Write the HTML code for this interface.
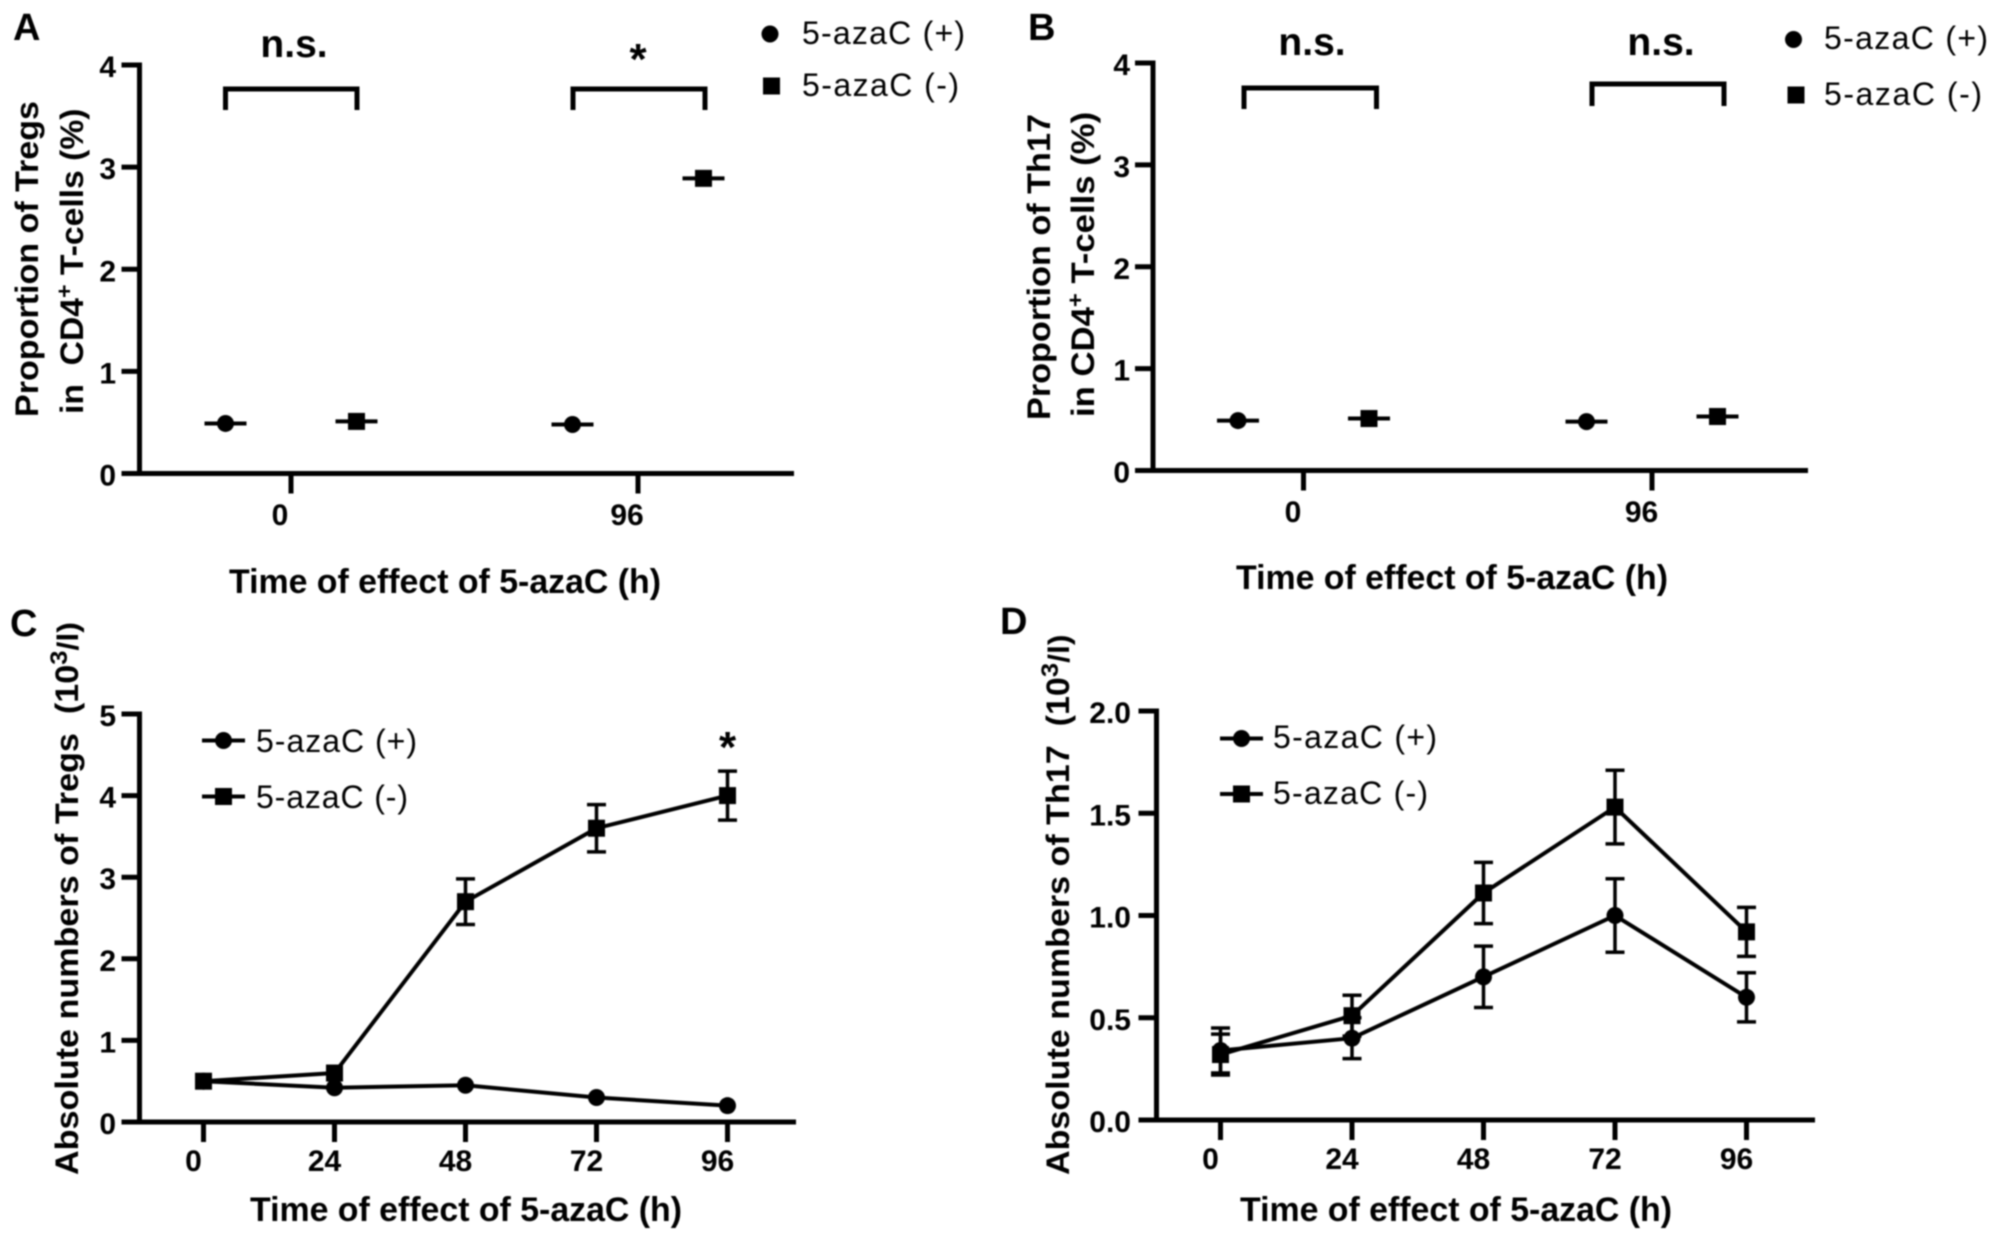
<!DOCTYPE html>
<html lang="en">
<head>
<meta charset="utf-8">
<title>5-azaC effect on Tregs and Th17</title>
<style>
html,body{margin:0;padding:0;background:#fff;}
svg{display:block;filter:blur(0.9px);}
text{font-family:"Liberation Sans","Noto Sans CJK SC",sans-serif;fill:#000;}
.b{font-weight:bold;}
.axis-title{font-weight:bold;font-size:34px;}
.y-title{font-weight:bold;font-size:32px;}
.letter{font-weight:bold;font-size:38px;}
.sig{font-weight:bold;font-size:39px;text-anchor:middle;}
.star{font-weight:bold;font-size:44px;text-anchor:middle;}
.legend{font-size:32px;}
.tick{font-weight:bold;font-size:30px;}
.bracket{fill:none;stroke:#000;stroke-width:5;}
.leg-line{stroke:#000;stroke-width:4;}
</style>
</head>
<body>
<svg id="figure" xmlns="http://www.w3.org/2000/svg" width="2008" height="1241" viewBox="0 0 2008 1241">
<rect width="2008" height="1241" fill="#fff"/>

<g id="panel-a">
<text class="letter" x="13" y="40">A</text>
<text class="y-title" transform="translate(38,417) rotate(-90)" textLength="316" lengthAdjust="spacingAndGlyphs">Proportion of Tregs</text>
<text class="y-title" transform="translate(83,414) rotate(-90) scale(1.053,1)">in&#160;&#160;CD4<tspan font-size="22" dy="-11">+</tspan><tspan dy="11"> T-cells (%)</tspan></text>
<text class="axis-title" x="229" y="593" textLength="432" lengthAdjust="spacingAndGlyphs">Time of effect of 5-azaC (h)</text>
<path class="bracket" d="M225.500 110V89H357V110"/>
<path class="bracket" d="M573 110V89H705V110"/>
<text class="sig" x="294" y="57">n.s.</text>
<text class="star" x="638" y="74">*</text>
<circle cx="770" cy="34" r="8.500"/>
<rect x="763" y="77.500" width="17" height="17"/>
<text class="legend" x="802" y="44" textLength="163" lengthAdjust="spacing">5-azaC (+)</text>
<text class="legend" x="802" y="96" textLength="157" lengthAdjust="spacing">5-azaC (-)</text>
</g>

<g id="panel-b">
<text class="letter" x="1028" y="40">B</text>
<text class="y-title" transform="translate(1050,420) rotate(-90)" textLength="306" lengthAdjust="spacingAndGlyphs">Proportion of Th17</text>
<text class="y-title" transform="translate(1094,417) rotate(-90) scale(1.085,1)">in CD4<tspan font-size="22" dy="-11">+</tspan><tspan dy="11"> T-cells (%)</tspan></text>
<text class="axis-title" x="1236" y="589" textLength="432" lengthAdjust="spacingAndGlyphs">Time of effect of 5-azaC (h)</text>
<path class="bracket" d="M1244 109V88H1376.500V109"/>
<path class="bracket" d="M1592 106V84H1724V106"/>
<text class="sig" x="1312" y="55">n.s.</text>
<text class="sig" x="1661" y="55">n.s.</text>
<circle cx="1793.500" cy="39.500" r="8.500"/>
<rect x="1787.500" y="86.500" width="17" height="17"/>
<text class="legend" x="1824" y="49" textLength="164" lengthAdjust="spacing">5-azaC (+)</text>
<text class="legend" x="1824" y="105" textLength="158" lengthAdjust="spacing">5-azaC (-)</text>
</g>

<g id="panel-c">
<text class="letter" x="10" y="636">C</text>
<text class="y-title" transform="translate(78,1175) rotate(-90) scale(1.067,1)">Absolute numbers of Tregs&#160;&#160;(10<tspan font-size="24" dy="-11">3</tspan><tspan font-size="30" dy="11">/l)</tspan></text>
<text class="axis-title" x="250" y="1221" textLength="432" lengthAdjust="spacingAndGlyphs">Time of effect of 5-azaC (h)</text>
<text class="star" x="727.500" y="762">*</text>
<line class="leg-line" x1="202" y1="740.500" x2="245" y2="740.500"/>
<circle cx="223.500" cy="740.500" r="8.500"/>
<line class="leg-line" x1="202" y1="796.500" x2="245" y2="796.500"/>
<rect x="215" y="788" width="17" height="17"/>
<text class="legend" x="256" y="752" textLength="161" lengthAdjust="spacing">5-azaC (+)</text>
<text class="legend" x="256" y="808" textLength="152" lengthAdjust="spacing">5-azaC (-)</text>
</g>

<g id="panel-d">
<text class="letter" x="1000" y="634">D</text>
<text class="y-title" transform="translate(1069,1175) rotate(-90) scale(1.065,1)">Absolute numbers of Th17&#160;&#160;(10<tspan font-size="24" dy="-11">3</tspan><tspan font-size="30" dy="11">/l)</tspan></text>
<text class="axis-title" x="1240" y="1221" textLength="432" lengthAdjust="spacingAndGlyphs">Time of effect of 5-azaC (h)</text>
<line class="leg-line" x1="1220" y1="738.500" x2="1263" y2="738.500"/>
<circle cx="1241.500" cy="738.500" r="8.500"/>
<line class="leg-line" x1="1220" y1="794" x2="1263" y2="794"/>
<rect x="1233" y="785.500" width="17" height="17"/>
<text class="legend" x="1273" y="748" textLength="164" lengthAdjust="spacing">5-azaC (+)</text>
<text class="legend" x="1273" y="804" textLength="155" lengthAdjust="spacing">5-azaC (-)</text>
</g>
</svg>

<script>
// ---- data ----
const aCategories = ['0', '96'];
const aYTicks = ['0', '1', '2', '3', '4'];
const aPlusValues = [0.49, 0.48];
const aMinusValues = [0.51, 2.89];

const bCategories = ['0', '96'];
const bYTicks = ['0', '1', '2', '3', '4'];
const bPlusValues = [0.49, 0.48];
const bMinusValues = [0.51, 0.53];

const cTimes = ['0', '24', '48', '72', '96'];
const cYTicks = ['0', '1', '2', '3', '4', '5'];
const cPlusValues = [0.5, 0.42, 0.45, 0.3, 0.2];
const cPlusErrors = [0, 0, 0, 0, 0];
const cMinusValues = [0.5, 0.6, 2.7, 3.6, 4.0];
const cMinusErrors = [0, 0, 0.28, 0.29, 0.3];

const dTimes = ['0', '24', '48', '72', '96'];
const dYTicks = ['0.0', '0.5', '1.0', '1.5', '2.0'];
const dPlusValues = [0.34, 0.4, 0.7, 1.0, 0.6];
const dPlusErrors = [0.11, 0.1, 0.15, 0.18, 0.12];
const dMinusValues = [0.32, 0.51, 1.11, 1.53, 0.92];
const dMinusErrors = [0.1, 0.1, 0.15, 0.18, 0.12];

// ---- layout of each panel ----
const layoutA = {id:'a', axisX:139.5, y0:473.5, yTop:65, yMax:4, xEnd:794, first:291, step:347, offset:65.5, labelEnd:116, labelShift:-11, labelY:525};
const layoutB = {id:'b', axisX:1153, y0:470.5, yTop:63, yMax:4, xEnd:1808, first:1303.5, step:348.5, offset:65.5, labelEnd:1130, labelShift:-10.5, labelY:522};
const layoutC = {id:'c', axisX:139.5, y0:1122, yTop:714, yMax:5, xEnd:796, first:203.5, step:131, labelEnd:116, labelShift:-10, labelY:1171};
const layoutD = {id:'d', axisX:1156.5, y0:1120, yTop:711, yMax:2, xEnd:1815, first:1220.5, step:131.5, labelEnd:1131, labelShift:-10, labelY:1169};

const NS = 'http://www.w3.org/2000/svg';

function make(tag, parent, props) {
  const el = document.createElementNS(NS, tag);
  for (const k in props) el.setAttribute(k, props[k]);
  parent.appendChild(el);
  return el;
}
function yPos(L, v) { return L.y0 - (v / L.yMax) * (L.y0 - L.yTop); }
function xCenter(L, i) { return L.first + i * L.step; }

function drawAxes(L, yTicks, xLabels) {
  const g = document.getElementById('panel-' + L.id);
  const yAxis = make('line', g, {x1:L.axisX, x2:L.axisX, y1:L.yTop - 2.5, y2:L.y0 + 2.5, stroke:'#000', 'stroke-width':5});
  
  
  const xAxis = make('line', g, {x1:L.axisX - 18, x2:L.xEnd, y1:L.y0, y2:L.y0, stroke:'#000', 'stroke-width':5});
  
  
  yTicks.forEach(function (label) {
    const v = parseFloat(label);
    const y = yPos(L, v);
    const tick = make('line', g, {x1:L.axisX - 18, x2:L.axisX, y1:y, y2:y, stroke:'#000', 'stroke-width':5});
    
    
    const text = make('text', g, {x:L.labelEnd, y:y + 12, 'text-anchor':'end', 'class':'tick'});
    text.textContent = label;
    
    
  });
  xLabels.forEach(function (label, i) {
    const x = xCenter(L, i);
    const tick = make('line', g, {x1:x, x2:x, y1:L.y0, y2:L.y0 + 20, stroke:'#000', 'stroke-width':5});
    
    
    const text = make('text', g, {x:x + L.labelShift, y:L.labelY, 'text-anchor':'middle', 'class':'tick'});
    text.textContent = label;
    
    
  });
}

function drawMarker(g, shape, x, y, name) {
  let m;
  if (shape === 'circle') {
    m = make('circle', g, {cx:x, cy:y, r:8.5, fill:'#000'});
  } else {
    m = make('rect', g, {x:x - 8.5, y:y - 8.5, width:17, height:17, fill:'#000'});
  }
  
  
}

function drawDots(L, values, side, shape, seriesName) {
  const g = document.getElementById('panel-' + L.id);
  values.forEach(function (v, i) {
    const x = xCenter(L, i) + side * L.offset;
    const y = yPos(L, v);
    const mean = make('line', g, {x1:x - 21, x2:x + 21, y1:y, y2:y, stroke:'#000', 'stroke-width':4});
    
    
    drawMarker(g, shape, x, y, 'point-' + L.id + '-' + seriesName + '-' + i);
  });
}

function drawSeries(L, values, errors, shape, seriesName) {
  const g = document.getElementById('panel-' + L.id);
  const pts = values.map(function (v, i) { return xCenter(L, i) + ',' + yPos(L, v); }).join(' ');
  const line = make('polyline', g, {points:pts, fill:'none', stroke:'#000', 'stroke-width':4});
  
  
  values.forEach(function (v, i) {
    const x = xCenter(L, i);
    const e = errors[i];
    if (e > 0) {
      const top = yPos(L, v + e);
      const bot = yPos(L, v - e);
      const d = 'M' + x + ' ' + top + 'V' + bot + 'M' + (x - 9.5) + ' ' + top + 'H' + (x + 9.5) + 'M' + (x - 9.5) + ' ' + bot + 'H' + (x + 9.5);
      const bar = make('path', g, {d:d, fill:'none', stroke:'#000', 'stroke-width':3.5});
      
      
    }
    drawMarker(g, shape, x, yPos(L, v), 'point-' + L.id + '-' + seriesName + '-' + i);
  });
}

drawAxes(layoutA, aYTicks, aCategories);
drawDots(layoutA, aPlusValues, -1, 'circle', 'plus');
drawDots(layoutA, aMinusValues, 1, 'square', 'minus');

drawAxes(layoutB, bYTicks, bCategories);
drawDots(layoutB, bPlusValues, -1, 'circle', 'plus');
drawDots(layoutB, bMinusValues, 1, 'square', 'minus');

drawAxes(layoutC, cYTicks, cTimes);
drawSeries(layoutC, cPlusValues, cPlusErrors, 'circle', 'plus');
drawSeries(layoutC, cMinusValues, cMinusErrors, 'square', 'minus');

drawAxes(layoutD, dYTicks, dTimes);
drawSeries(layoutD, dPlusValues, dPlusErrors, 'circle', 'plus');
drawSeries(layoutD, dMinusValues, dMinusErrors, 'square', 'minus');
</script>
</body>
</html>
